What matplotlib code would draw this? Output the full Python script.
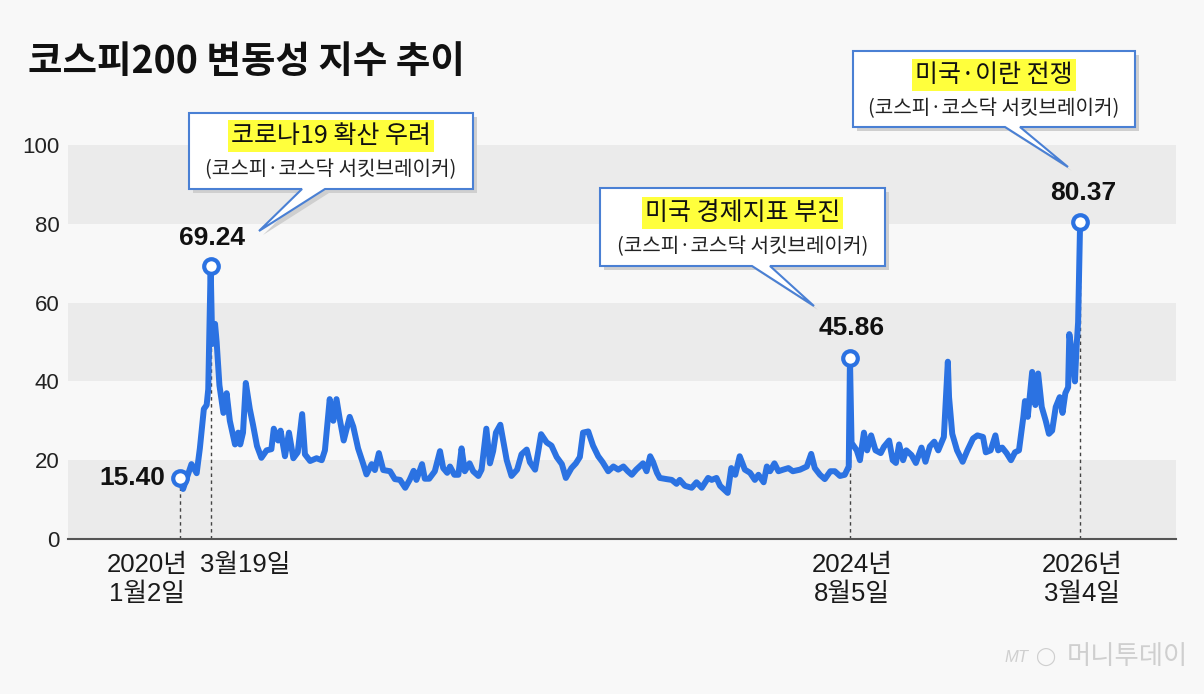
import pandas as pd
import matplotlib.pyplot as plt
from matplotlib.patches import Polygon

# VKOSPI (코스피200 변동성 지수)
dates_2020 = ['2020-01-02', '2020-01-10', '2020-01-31', '2020-02-13', '2020-02-21', '2020-03-02',
              '2020-03-09', '2020-03-13', '2020-03-19', '2020-03-23', '2020-03-30', '2020-04-03',
              '2020-04-10', '2020-04-20', '2020-04-28', '2020-05-06', '2020-05-19', '2020-05-27',
              '2020-06-01', '2020-06-08', '2020-06-15', '2020-06-25', '2020-07-03', '2020-07-13',
              '2020-07-24', '2020-08-06', '2020-08-18', '2020-08-24', '2020-09-04', '2020-09-10',
              '2020-09-21', '2020-10-01', '2020-10-12', '2020-10-23', '2020-11-03', '2020-11-10',
              '2020-11-23', '2020-12-09', '2020-12-22', '2020-12-30']
vals_2020 = [15.40, 12.7, 19.0, 16.7, 23.0, 33.0, 34.0, 38.0, 69.24, 49.5, 54.6, 50.0,
             39.0, 32.0, 37.0, 30.0, 24.0, 27.0, 24.0, 27.0, 39.6, 33.0, 29.0, 23.6,
             20.6, 22.5, 22.8, 28.0, 25.0, 27.5, 21.0, 27.0, 20.5, 22.0, 31.7, 21.5,
             19.8, 20.5, 20.0, 22.5]

dates_2021 = ['2021-01-11', '2021-01-20', '2021-01-28', '2021-02-05', '2021-02-15', '2021-03-02',
              '2021-03-11', '2021-03-23', '2021-04-05', '2021-04-13', '2021-04-26', '2021-05-04',
              '2021-05-14', '2021-05-25', '2021-06-11', '2021-06-23', '2021-07-06', '2021-07-19',
              '2021-07-30', '2021-08-09', '2021-08-16', '2021-08-30', '2021-09-06', '2021-09-17',
              '2021-10-01', '2021-10-14', '2021-10-22', '2021-11-01', '2021-11-08', '2021-11-19',
              '2021-11-29', '2021-12-07', '2021-12-15', '2021-12-27']
vals_2021 = [35.5, 30.0, 35.5, 30.5, 25.0, 31.0, 28.5, 23.0, 19.0, 16.4, 19.0, 17.5,
             21.8, 17.5, 17.2, 15.2, 15.0, 13.0, 15.0, 17.3, 15.0, 19.0, 15.3, 15.3,
             17.2, 22.3, 18.0, 16.8, 18.4, 16.3, 16.3, 23.0, 17.2, 19.2]

dates_2022 = ['2022-01-05', '2022-01-18', '2022-01-26', '2022-02-07', '2022-02-16', '2022-02-24',
              '2022-03-03', '2022-03-14', '2022-03-21', '2022-03-30', '2022-04-11', '2022-04-25',
              '2022-05-06', '2022-05-19', '2022-05-27', '2022-06-09', '2022-06-17', '2022-06-24',
              '2022-07-08', '2022-07-20', '2022-08-02', '2022-08-15', '2022-08-25', '2022-09-08',
              '2022-09-19', '2022-09-29', '2022-10-07', '2022-10-20', '2022-11-01', '2022-11-14',
              '2022-11-25', '2022-12-09', '2022-12-22']
vals_2022 = [17.2, 16.0, 17.6, 28.0, 19.2, 22.3, 27.0, 29.0, 25.0, 20.0, 16.0, 17.6,
             21.5, 22.7, 19.5, 17.6, 22.3, 26.6, 24.5, 23.7, 20.8, 19.0, 15.5, 18.0,
             19.2, 20.8, 27.0, 27.3, 23.7, 21.0, 19.5, 17.2, 18.4]

dates_2023 = ['2023-01-03', '2023-01-16', '2023-01-27', '2023-02-06', '2023-02-17', '2023-03-06',
              '2023-03-15', '2023-03-24', '2023-03-31', '2023-04-10', '2023-04-17', '2023-05-04',
              '2023-05-17', '2023-05-29', '2023-06-06', '2023-06-19', '2023-07-06', '2023-07-18',
              '2023-07-31', '2023-08-16', '2023-08-25', '2023-09-06', '2023-09-15', '2023-10-04',
              '2023-10-13', '2023-10-23', '2023-11-03', '2023-11-16', '2023-11-29', '2023-12-11',
              '2023-12-20']
vals_2023 = [17.6, 18.4, 17.2, 16.3, 17.6, 19.2, 17.2, 21.0, 19.6, 16.8, 15.5, 15.2,
             15.0, 14.0, 15.0, 13.5, 13.0, 14.4, 13.0, 15.5, 15.0, 15.5, 13.5, 11.7,
             18.0, 16.3, 21.0, 17.6, 16.8, 15.0, 16.3]

dates_2024 = ['2024-01-02', '2024-01-10', '2024-01-18', '2024-01-29', '2024-02-08', '2024-02-20',
              '2024-03-04', '2024-03-15', '2024-04-02', '2024-04-19', '2024-04-30', '2024-05-09',
              '2024-05-22', '2024-06-03', '2024-06-17', '2024-06-28', '2024-07-11', '2024-07-23',
              '2024-08-02', '2024-08-05', '2024-08-09', '2024-08-22', '2024-08-30', '2024-09-09',
              '2024-09-17', '2024-09-27', '2024-10-08', '2024-10-21', '2024-10-29', '2024-11-11',
              '2024-11-20', '2024-11-28', '2024-12-06', '2024-12-16', '2024-12-24']
vals_2024 = [14.4, 18.4, 17.2, 19.2, 17.2, 17.6, 18.0, 17.2, 17.6, 18.4, 21.6, 18.0,
             16.3, 15.2, 17.2, 17.2, 16.0, 16.3, 18.4, 45.86, 24.4, 22.5, 20.0, 27.0,
             22.5, 26.3, 22.5, 21.8, 23.4, 25.0, 20.0, 19.3, 24.0, 20.0, 22.5]

dates_2025 = ['2025-01-06', '2025-01-17', '2025-01-31', '2025-02-10', '2025-02-21', '2025-03-04',
              '2025-03-14', '2025-03-28', '2025-04-07', '2025-04-10', '2025-04-18', '2025-04-30',
              '2025-05-14', '2025-05-26', '2025-06-09', '2025-06-20', '2025-07-04', '2025-07-11',
              '2025-07-23', '2025-08-04', '2025-08-11', '2025-08-21', '2025-09-01', '2025-09-12',
              '2025-09-22', '2025-10-02', '2025-10-13', '2025-10-17', '2025-10-24', '2025-11-04',
              '2025-11-12', '2025-11-19', '2025-11-28', '2025-12-08', '2025-12-16', '2025-12-24']
vals_2025 = [21.3, 19.3, 23.2, 19.6, 23.5, 24.7, 22.5, 25.9, 45.0, 36.0, 26.7, 22.5,
             19.6, 22.5, 25.5, 26.3, 25.9, 22.0, 22.5, 26.3, 22.5, 23.2, 21.8, 20.0,
             22.0, 22.5, 31.0, 35.0, 31.0, 42.4, 34.0, 42.0, 33.5, 30.0, 26.7, 27.5]

dates_2026 = ['2026-01-02', '2026-01-12', '2026-01-19', '2026-01-26', '2026-02-02', '2026-02-05',
              '2026-02-12', '2026-02-19', '2026-02-23', '2026-02-27', '2026-03-04']
vals_2026 = [33.5, 36.0, 32.0, 37.0, 38.5, 52.0, 47.0, 40.0, 48.5, 55.0, 80.37]

# marked points
event_dates = ['2020-01-02', '2020-03-19', '2024-08-05', '2026-03-04']
event_values = [15.40, 69.24, 45.86, 80.37]
event_ticks = ['2020년\n1월2일', '3월19일', '2024년\n8월5일', '2026년\n3월4일']

dates = pd.to_datetime(dates_2020 + dates_2021 + dates_2022 + dates_2023
                       + dates_2024 + dates_2025 + dates_2026)
values = vals_2020 + vals_2021 + vals_2022 + vals_2023 + vals_2024 + vals_2025 + vals_2026
ev_dates = pd.to_datetime(event_dates)

BG = '#f8f8f8'
BAND = '#ebebeb'
BLUE = '#2b72e2'
KR = ['Noto Sans CJK KR', 'DejaVu Sans']
NUM = ['Liberation Sans Narrow', 'Liberation Sans', 'Noto Sans CJK KR']

W, H = 1204, 694
fig = plt.figure(figsize=(W / 100, H / 100), dpi=100, facecolor=BG)


def fp(x, y):
    # pixel (from top-left) -> figure fraction
    return (x / W, 1 - y / H)


ax = fig.add_axes([68 / W, 1 - 539 / H, (1176 - 68) / W, (539 - 145) / H])
ax.set_facecolor(BG)
for lo in (0, 40, 80):
    ax.axhspan(lo, lo + 20, color=BAND, zorder=0, lw=0)

ax.plot(dates, values, color=BLUE, lw=4.3, solid_joinstyle='round', zorder=3)
ax.vlines(ev_dates, 0, event_values, colors='#444444', linestyles=(0, (2.5, 2.5)), lw=1, zorder=2)
ax.plot(ev_dates, event_values, 'o', ms=10.5, mfc='white', mec=BLUE, mew=3, zorder=4)

ax.set_xlim(pd.Timestamp('2019-03-28'), pd.Timestamp('2026-10-30'))
ax.set_ylim(0, 100)
ax.set_yticks([0, 20, 40, 60, 80, 100])
ax.set_xticks([])
ax.tick_params(axis='y', length=0, pad=6, labelsize=16, labelcolor='#222222')
for lab in ax.get_yticklabels():
    lab.set_family(NUM)
for s in ('top', 'right', 'left'):
    ax.spines[s].set_visible(False)
ax.spines['bottom'].set_color('#555555')
ax.spines['bottom'].set_linewidth(1.5)

# value labels above / beside the marked points
label_offsets = [(-48, 0), (1, 28), (2, 30), (3, 29)]
for d, v, off in zip(ev_dates, event_values, label_offsets):
    ax.annotate(f'{v:.2f}', (d, v), xytext=off, textcoords='offset pixels',
                ha='center', va='center', fontsize=19, fontweight='bold',
                family=NUM, color='#111111', zorder=5)

# date labels under the axis
tick_offsets = [-33, 35, 2, 2]
for d, t, dx in zip(ev_dates, event_ticks, tick_offsets):
    ax.annotate(t, (d, 0), xytext=(dx, -14), textcoords='offset pixels',
                ha='center', va='top', fontsize=18.5, family=NUM, color='#1a1a1a',
                linespacing=1.25, annotation_clip=False)

fig.text(*fp(28, 61), '코스피200 변동성 지수 추이', fontsize=27, fontweight='bold',
         family=KR, color='#111111', ha='left', va='center')


def callout(box, base, tip, head, head_y, sub_y):
    L, T, R, B = box
    pts = [(L, T), (R, T), (R, B), (base[1], B), tip, (base[0], B), (L, B)]
    shadow = Polygon([fp(x + 4, y + 4) for x, y in pts], closed=True,
                     transform=fig.transFigure, fc='#cfcfcf', ec='none', zorder=5)
    body = Polygon([fp(x, y) for x, y in pts], closed=True, transform=fig.transFigure,
                   fc='white', ec='#4a80d4', lw=1.5, zorder=6)
    fig.add_artist(shadow)
    fig.add_artist(body)
    cx = (L + R) / 2
    fig.text(*fp(cx, head_y), head, fontsize=18, family=KR, color='#111111',
             ha='center', va='center', zorder=7,
             bbox=dict(boxstyle='square,pad=0.12', fc='#ffff3c', ec='none'))
    fig.text(*fp(cx, sub_y), '(코스피·코스닥 서킷브레이커)', fontsize=14.5, family=KR,
             color='#222222', ha='center', va='center', zorder=7)


callout((189, 113, 473, 189), (302, 325), (259, 231), '코로나19 확산 우려', 136, 170)
callout((600, 188, 885, 266), (752, 770), (814, 306), '미국 경제지표 부진', 213, 247)
callout((853, 51, 1135, 127), (1005, 1020), (1068, 167), '미국·이란 전쟁', 75, 109)

# watermark
fig.text(*fp(1028, 657), 'MT', fontsize=12, style='italic', family=NUM,
         color='#cfcfcf', ha='right', va='center')
fig.text(*fp(1045, 657), '◯', fontsize=13, family=['DejaVu Sans'],
         color='#cfcfcf', ha='center', va='center')
fig.text(*fp(1127, 657), '머니투데이', fontsize=19, family=KR,
         color='#cfcfcf', ha='center', va='center')

fig.savefig('out.png', dpi=100, facecolor=BG)
